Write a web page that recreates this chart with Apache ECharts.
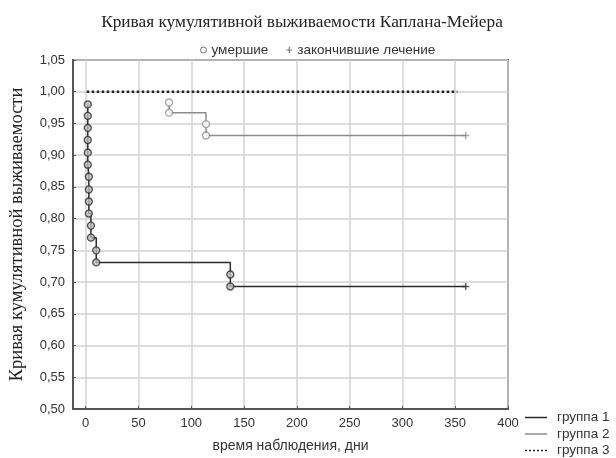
<!DOCTYPE html>
<html>
<head>
<meta charset="utf-8">
<script src="https://cdn.jsdelivr.net/npm/echarts@6/dist/echarts.min.js"></script>
<style>html,body{margin:0;padding:0;background:#fff}#c{width:616px;height:458px}</style>
</head>
<body>
<div id="c"></div>
<script>
// Data
const group1Times = [2, 2, 2, 2, 2, 2, 3, 3, 3, 3, 5, 5, 10, 10, 137, 137, 360];
const group1Surv  = [0.98, 0.962, 0.943, 0.924, 0.904, 0.885, 0.866, 0.846, 0.827, 0.808, 0.789, 0.77, 0.75, 0.731, 0.712, 0.693, 0.693];
const group1Censored = [false, false, false, false, false, false, false, false, false, false, false, false, false, false, false, false, true];

const group2Times = [79, 79, 114, 114, 360];
const group2Surv  = [0.983, 0.967, 0.949, 0.931, 0.931];
const group2Censored = [false, false, false, false, true];

const group3Times = [1, 352];
const group3Surv  = [1.0, 1.0];

const xTicks = [0, 50, 100, 150, 200, 250, 300, 350, 400];
const yTicks = [0.50, 0.55, 0.60, 0.65, 0.70, 0.75, 0.80, 0.85, 0.90, 0.95, 1.00, 1.05];

const titleText = 'Кривая кумулятивной выживаемости Каплана-Мейера';
const groupNames = ['группа 1', 'группа 2', 'группа 3'];
const markerNames = ['умершие', 'закончившие лечение'];
const xName = 'время наблюдения, дни';
const yName = 'Кривая кумулятивной выживаемости';

const c1 = '#2b2b2b', c2 = '#8c8c8c', c3 = '#222';
const plusPath = 'path://M4,0 L6,0 L6,4 L10,4 L10,6 L6,6 L6,10 L4,10 L4,6 L0,6 L0,4 L4,4 Z';
const solidIcon = 'path://M0,0 L22,0 L22,1.5 L0,1.5 Z';
const dotIcon = 'path://M0,0 L2,0 L2,1.5 L0,1.5 Z M4,0 L6,0 L6,1.5 L4,1.5 Z M8,0 L10,0 L10,1.5 L8,1.5 Z M12,0 L14,0 L14,1.5 L12,1.5 Z M16,0 L18,0 L18,1.5 L16,1.5 Z M20,0 L22,0 L22,1.5 L20,1.5 Z';

function pts(t, s) { return t.map((v, i) => [v, s[i]]); }
function deaths(t, s, c) { return t.map((v, i) => [v, s[i]]).filter((_, i) => !c[i]); }
function cens(t, s, c) { return t.map((v, i) => [v, s[i]]).filter((_, i) => c[i]); }

const chart = echarts.init(document.getElementById('c'), null, {renderer: 'canvas'});
const font = 'Liberation Sans, Arial, sans-serif';
const serif = 'Liberation Serif, Times New Roman, serif';
chart.setOption({
  backgroundColor: '#ffffff',
  animation: false,
  title: {
    text: titleText, left: 297, top: 9, textAlign: 'center',
    textStyle: {fontFamily: serif, fontSize: 17.3, fontWeight: 'normal', color: '#222'}
  },
  legend: [
    {
      data: [
        {name: markerNames[0], icon: 'circle', itemStyle: {color: '#fff', borderColor: '#555', borderWidth: 1}},
        {name: markerNames[1], icon: plusPath, itemStyle: {color: '#555', borderWidth: 0}}
      ],
      left: 195, top: 38, itemWidth: 6, itemHeight: 6, itemGap: 18,
      textStyle: {fontFamily: font, fontSize: 13.5, color: '#333'}
    },
    {
      data: [
        {name: groupNames[0], icon: solidIcon, itemStyle: {color: c1, borderWidth: 0}},
        {name: groupNames[1], icon: solidIcon, itemStyle: {color: c2, borderWidth: 0}},
        {name: groupNames[2], icon: dotIcon, itemStyle: {color: c3, borderWidth: 0}}
      ],
      orient: 'vertical', left: 525, top: 410, height: 80, padding: 0,
      itemWidth: 22, itemHeight: 2, itemGap: 1.5,
      textStyle: {fontFamily: font, fontSize: 13.5, color: '#333', lineHeight: 15, padding: [0, 0, 0, 5]}
    }
  ],
  grid: {left: 73, right: 108, top: 60, bottom: 46, show: true, borderColor: '#555', borderWidth: 2, backgroundColor: '#fff'},
  xAxis: {
    type: 'value', min: -12, max: 400, splitNumber: 8,
    name: xName, nameLocation: 'middle', nameGap: 30,
    nameTextStyle: {fontFamily: font, fontSize: 14, color: '#333'},
    axisLine: {lineStyle: {color: '#555', width: 2}, onZero: false},
    axisTick: {show: true, inside: true, length: 3, lineStyle: {color: '#555'}},
    axisLabel: {
      showMinLabel: false, margin: 8, fontFamily: font, fontSize: 13, color: '#333',
      formatter: v => xTicks.indexOf(v) >= 0 ? String(v) : ''
    },
    splitLine: {show: true, lineStyle: {color: '#d2d2d2', width: 1.5}}
  },
  yAxis: {
    type: 'value', min: 0.5, max: 1.05, interval: 0.05,
    name: yName, nameLocation: 'middle', nameGap: 46, nameRotate: 90,
    nameTextStyle: {fontFamily: serif, fontSize: 18.5, color: '#222'},
    axisLine: {lineStyle: {color: '#555', width: 2}, onZero: false},
    axisTick: {show: true, inside: true, length: 3, lineStyle: {color: '#555'}},
    axisLabel: {
      margin: 8, fontFamily: font, fontSize: 13, color: '#333',
      formatter: v => { const m = yTicks.find(t => Math.abs(t - v) < 1e-6); return m !== undefined ? m.toFixed(2).replace('.', ',') : ''; }
    },
    splitLine: {show: true, lineStyle: {color: '#d2d2d2', width: 1.5}}
  },
  series: [
    {name: groupNames[0], type: 'line', step: 'end', symbol: 'none', data: pts(group1Times, group1Surv),
     lineStyle: {color: c1, width: 1.5}, itemStyle: {color: c1}, z: 3},
    {name: groupNames[1], type: 'line', step: 'end', symbol: 'none', data: pts(group2Times, group2Surv),
     lineStyle: {color: c2, width: 1.5}, itemStyle: {color: c2}, z: 3},
    {name: groupNames[2], type: 'line', step: 'end', symbol: 'none', data: pts(group3Times, group3Surv),
     lineStyle: {color: c3, width: 2.5, type: [2.5, 2.5]}, itemStyle: {color: c3}, z: 3},
    {name: markerNames[0], type: 'scatter', symbol: 'circle', symbolSize: 7, data: deaths(group1Times, group1Surv, group1Censored),
     itemStyle: {color: '#bbb', borderColor: c1, borderWidth: 1.3}, z: 4},
    {name: markerNames[0], type: 'scatter', symbol: 'circle', symbolSize: 7, data: deaths(group2Times, group2Surv, group2Censored),
     itemStyle: {color: '#fff', borderColor: c2, borderWidth: 1.3}, z: 4},
    {name: markerNames[1], type: 'scatter', symbol: plusPath, symbolSize: 7, data: cens(group1Times, group1Surv, group1Censored),
     itemStyle: {color: c1}, z: 4},
    {name: markerNames[1], type: 'scatter', symbol: plusPath, symbolSize: 7, data: cens(group2Times, group2Surv, group2Censored),
     itemStyle: {color: c2}, z: 4}
  ]
});
</script>
</body>
</html>
